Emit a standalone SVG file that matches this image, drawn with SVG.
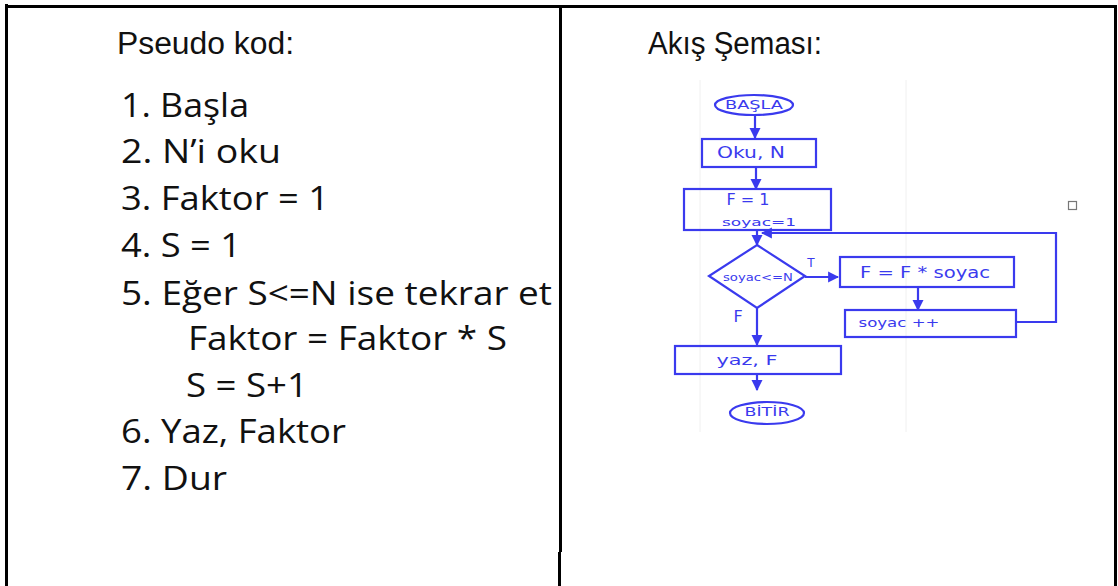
<svg xmlns="http://www.w3.org/2000/svg" width="1118" height="586" viewBox="0 0 1118 586">
  <style>
    .frame { stroke: #000; stroke-width: 3; fill: none; }
    .head { font-family: "Liberation Sans", Arial, sans-serif; font-size: 31px; fill: #111; }
    .code { font-family: "Open Sans", Lato, sans-serif; font-size: 32px; fill: #111; }
    .shape { fill: none; stroke: #3a3aee; stroke-width: 2.2; }
    .wire { fill: none; stroke: #3a3aee; stroke-width: 2.2; }
    .hand { font-family: "DejaVu Sans", sans-serif; fill: #3a3aee; text-anchor: middle; dominant-baseline: central; }
  </style>
  <defs>
    <marker id="arrow" viewBox="0 0 10 10" refX="9" refY="5" markerWidth="5" markerHeight="5.5" orient="auto" markerUnits="strokeWidth">
      <path d="M0,0 L10,5 L0,10 Z" fill="#3a3aee"/>
    </marker>
  </defs>

  <rect width="1118" height="586" fill="#fff"/>

  <!-- table frame -->
  <g id="table">
    <line class="frame" x1="6.5" y1="4" x2="6.5" y2="586"/>
    <line class="frame" x1="5" y1="6.5" x2="1117" y2="6.5"/>
    <line class="frame" x1="560.5" y1="5" x2="560.5" y2="552"/>
    <line class="frame" x1="559.5" y1="552" x2="559.5" y2="586"/>
    <line class="frame" x1="1115.5" y1="5" x2="1115.5" y2="586"/>
    <rect x="1068.5" y="201.5" width="8" height="8" fill="none" stroke="#777" stroke-width="1.2"/>
  </g>

  <!-- left column: pseudo code -->
  <g id="pseudo">
    <text class="head" x="117" y="54" textLength="177" lengthAdjust="spacingAndGlyphs">Pseudo kod:</text>
    <text class="code" x="121" y="117" textLength="128" lengthAdjust="spacingAndGlyphs">1. Başla</text>
    <text class="code" x="121" y="163" textLength="160" lengthAdjust="spacingAndGlyphs">2. N’i oku</text>
    <text class="code" x="121" y="210" textLength="208" lengthAdjust="spacingAndGlyphs">3. Faktor = 1</text>
    <text class="code" x="121" y="257" textLength="120" lengthAdjust="spacingAndGlyphs">4. S = 1</text>
    <text class="code" x="121" y="305" textLength="431" lengthAdjust="spacingAndGlyphs">5. Eğer S&lt;=N ise tekrar et</text>
    <text class="code" x="188" y="350" textLength="319" lengthAdjust="spacingAndGlyphs">Faktor = Faktor * S</text>
    <text class="code" x="186" y="397" textLength="122" lengthAdjust="spacingAndGlyphs">S = S+1</text>
    <text class="code" x="121" y="443" textLength="225" lengthAdjust="spacingAndGlyphs">6. Yaz, Faktor</text>
    <text class="code" x="121" y="490" textLength="106" lengthAdjust="spacingAndGlyphs">7. Dur</text>
  </g>

  <!-- right column: flow chart -->
  <text class="head" x="648" y="54" textLength="174" lengthAdjust="spacingAndGlyphs">Akış Şeması:</text>

  <g id="fc-bg" stroke="#f0f0f0" stroke-width="1">
    <line x1="700" y1="80" x2="700" y2="432"/>
    <line x1="906" y1="80" x2="906" y2="432"/>
  </g>

  <g id="connectors">
    <line class="wire" x1="755" y1="115" x2="755" y2="138" marker-end="url(#arrow)"/>
    <line class="wire" x1="756" y1="167" x2="756" y2="189" marker-end="url(#arrow)"/>
    <line class="wire" x1="757" y1="230" x2="757" y2="245" marker-end="url(#arrow)"/>
    <line class="wire" x1="805" y1="277" x2="838" y2="277" marker-end="url(#arrow)"/>
    <line class="wire" x1="918" y1="287" x2="918" y2="310" marker-end="url(#arrow)"/>
    <polyline class="wire" points="1016,322 1056,322 1056,233 762,233" marker-end="url(#arrow)"/>
    <line class="wire" x1="757" y1="308" x2="757" y2="345" marker-end="url(#arrow)"/>
    <line class="wire" x1="757" y1="374" x2="757" y2="390" marker-end="url(#arrow)"/>
    <text class="hand" x="811" y="263" font-size="12">T</text>
    <text class="hand" x="738" y="316" font-size="16">F</text>
  </g>

  <g id="start">
    <ellipse class="shape" cx="754" cy="105" rx="39" ry="10"/>
    <text class="hand" x="754" y="105" font-size="12" textLength="58" lengthAdjust="spacingAndGlyphs">BAŞLA</text>
  </g>

  <g id="read">
    <rect class="shape" x="702" y="139" width="114" height="28"/>
    <text class="hand" x="751" y="153" font-size="15" textLength="68" lengthAdjust="spacingAndGlyphs">Oku, N</text>
  </g>

  <g id="init">
    <rect class="shape" x="684" y="189" width="147" height="41"/>
    <text class="hand" x="748" y="200" font-size="15" textLength="43" lengthAdjust="spacingAndGlyphs">F = 1</text>
    <text class="hand" x="759" y="222" font-size="11" textLength="74" lengthAdjust="spacingAndGlyphs">soyac=1</text>
  </g>

  <g id="cond">
    <polygon class="shape" points="757,245 805,276 757,308 709,276"/>
    <text class="hand" x="758" y="277" font-size="10" textLength="70" lengthAdjust="spacingAndGlyphs">soyac&lt;=N</text>
  </g>

  <g id="mult">
    <rect class="shape" x="840" y="257" width="174" height="30"/>
    <text class="hand" x="925" y="272" font-size="16" textLength="130" lengthAdjust="spacingAndGlyphs">F = F * soyac</text>
  </g>

  <g id="incr">
    <rect class="shape" x="845" y="310" width="171" height="27"/>
    <text class="hand" x="899" y="323" font-size="12" textLength="81" lengthAdjust="spacingAndGlyphs">soyac ++</text>
  </g>

  <g id="write">
    <rect class="shape" x="675" y="346" width="166" height="28"/>
    <text class="hand" x="747" y="360" font-size="14" textLength="61" lengthAdjust="spacingAndGlyphs">yaz, F</text>
  </g>

  <g id="end">
    <ellipse class="shape" cx="767" cy="413" rx="37" ry="11"/>
    <text class="hand" x="767" y="412" font-size="12" textLength="45" lengthAdjust="spacingAndGlyphs">BİTİR</text>
  </g>
</svg>
